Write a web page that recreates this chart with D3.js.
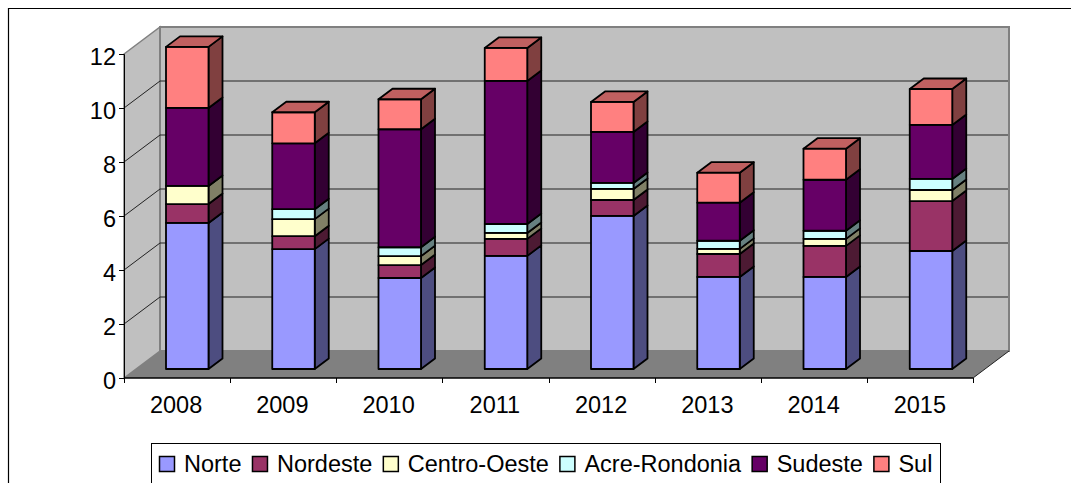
<!DOCTYPE html>
<html><head><meta charset="utf-8">
<script src="https://cdn.jsdelivr.net/npm/d3@7"></script>
<style>html,body{margin:0;padding:0;background:#fff;overflow:hidden}svg{display:block}text{font-family:"Liberation Sans",Arial,sans-serif;font-size:23.5px;fill:#000}</style>
</head><body><svg id="c" width="1071" height="483"></svg>
<script>
const years = ["2008","2009","2010","2011","2012","2013","2014","2015"];
const seriesNames = ["Norte","Nordeste","Centro-Oeste","Acre-Rondonia","Sudeste","Sul"];
const norte    = [5.41,4.44,3.37,4.19,5.67,3.41,3.41,4.37];
const nordeste = [0.70,0.48,0.48,0.63,0.59,0.85,1.15,1.85];
const centro   = [0.67,0.63,0.33,0.22,0.41,0.19,0.26,0.41];
const acre     = [0.00,0.37,0.33,0.33,0.22,0.30,0.30,0.41];
const sudeste  = [2.89,2.44,4.37,5.30,1.89,1.41,1.89,2.00];
const sul      = [2.26,1.15,1.11,1.22,1.11,1.11,1.15,1.33];
const yTicks   = [0,2,4,6,8,10,12];
const frontColors = ["#9999FF","#993366","#FFFFCC","#CCFFFF","#660066","#FF8080"];
const sideColors  = ["#4D4D80","#4D1A33","#808066","#668080","#330033","#804040"];
const topColor = "#C06060";

const rows = years.map((y,i)=>({year:y,Norte:norte[i],Nordeste:nordeste[i],"Centro-Oeste":centro[i],"Acre-Rondonia":acre[i],Sudeste:sudeste[i],Sul:sul[i]}));
const stacked = d3.stack().keys(seriesNames)(rows);

const svg = d3.select("#c");
const x = d3.scaleBand().domain(years).range([124,974]);
const y = d3.scaleLinear().domain([0,12]).range([378,54]);
const depth = {x:36,y:-27};
const barOff = {y:-9};
const barSide = {x:14,y:-10.5};
const barW = 42.5;
const poly = p => p.map(q=>q.join(",")).join(" ");

// outer frame (only top and left fall in the crop)
svg.append("path").attr("d","M8.5,483V8.5H1071").attr("fill","none").attr("stroke","#000").attr("stroke-width",1.2);

// walls and floor
const x0=124,x1=973,y0=y(0),yT=y(12);
svg.append("polygon").attr("points",poly([[x0,yT],[x0+depth.x,yT+depth.y],[x0+depth.x,y0+depth.y],[x0,y0]])).attr("fill","#C0C0C0").attr("stroke","#808080").attr("stroke-width",1.5);
svg.append("polygon").attr("points",poly([[x0+depth.x,yT+depth.y],[x1+depth.x,yT+depth.y],[x1+depth.x,y0+depth.y],[x0+depth.x,y0+depth.y]])).attr("fill","#C0C0C0").attr("stroke","#808080").attr("stroke-width",2);
svg.append("polygon").attr("points",poly([[x0,y0],[x0+depth.x,y0+depth.y],[x1+depth.x,y0+depth.y],[x1,y0]])).attr("fill","#808080");

// gridlines
const grid = svg.append("g").attr("fill","none").attr("stroke","#222").attr("stroke-width",1);
yTicks.filter(t=>t>0&&t<12).forEach(t=>{
  grid.append("polyline").attr("points",poly([[x0,y(t)],[x0+depth.x,y(t)+depth.y],[x1+depth.x-1,y(t)+depth.y]]));
});

// axes
const axisX = svg.append("g").attr("transform",`translate(0,${y0})`).call(d3.axisBottom(x).tickValues([]).tickSizeOuter(0));
axisX.selectAll(".domain").remove();
svg.append("line").attr("x1",x0).attr("x2",x1).attr("y1",y0).attr("y2",y0).attr("stroke","#000").attr("stroke-width",1.5);
d3.range(years.length+1).forEach(i=>{
  const px = Math.round(x0 + i*(x1-x0)/years.length) + .5;
  svg.append("line").attr("x1",px).attr("x2",px).attr("y1",y0).attr("y2",y0+5).attr("stroke","#000");
});
svg.append("g").selectAll("text").data(years).join("text")
  .attr("x",d=>x(d)+x.bandwidth()/2-1).attr("y",413).attr("text-anchor","middle").text(d=>d);
const axisY = svg.append("g").attr("transform",`translate(${x0},0)`)
  .call(d3.axisLeft(y).tickValues(yTicks).tickSize(5).tickFormat(d3.format("d")).tickPadding(3));
axisY.selectAll("text").style("font-size","23.5px").style("font-family",'"Liberation Sans",Arial,sans-serif').attr("dy","0.43em");
axisY.select(".domain").attr("stroke","#000").attr("stroke-width",1);
axisY.selectAll("line").attr("stroke","#000");
svg.append("line").attr("x1",x1).attr("y1",y0).attr("x2",x1+depth.x).attr("y2",y0+depth.y).attr("stroke","#222");

// bars
const bars = svg.append("g").attr("stroke","#000").attr("stroke-width",1.8).attr("stroke-linejoin","round");
years.forEach((yr,i)=>{
  const left = x(yr)+42;
  const right = left+barW;
  stacked.forEach((s,k)=>{
    const [a,b]=s[i];
    if(b-a<=0) return;
    const yb=y(a)+barOff.y, yt=y(b)+barOff.y;
    bars.append("polygon").attr("points",poly([[right,yb],[right+barSide.x,yb+barSide.y],[right+barSide.x,yt+barSide.y],[right,yt]])).attr("fill",sideColors[k]);
    bars.append("rect").attr("x",left).attr("y",yt).attr("width",barW).attr("height",yb-yt).attr("fill",frontColors[k]);
  });
  const total = stacked[stacked.length-1][i][1];
  const ty=y(total)+barOff.y;
  bars.append("polygon").attr("points",poly([[left,ty],[left+barSide.x,ty+barSide.y],[right+barSide.x,ty+barSide.y],[right,ty]])).attr("fill",topColor);
});

// legend
svg.append("rect").attr("x",151.5).attr("y",443.5).attr("width",789).attr("height",60).attr("fill","#fff").attr("stroke","#000");
let lx = 159;
seriesNames.forEach((n,k)=>{
  svg.append("rect").attr("x",lx+.5).attr("y",456.5).attr("width",15).attr("height",15).attr("fill",frontColors[k]).attr("stroke","#000").attr("stroke-width",1.5);
  const t = svg.append("text").attr("x",lx+25).attr("y",472).text(n);
  lx += 25 + t.node().getComputedTextLength() + 10.5;
});
</script></body></html>
